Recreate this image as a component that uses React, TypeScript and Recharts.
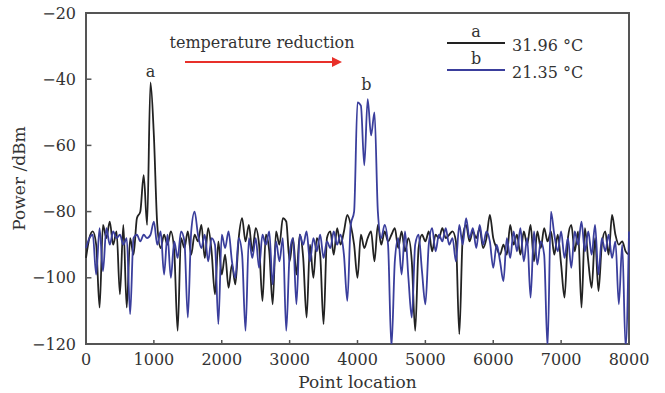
import React from "react";
import {
  LineChart,
  Line,
  XAxis,
  YAxis,
  ReferenceArea,
  ReferenceLine,
  ReferenceDot,
  Customized,
} from "recharts";

const STEP = 50;

const seriesA: number[] = [
  -94, -88, -86, -90, -109, -84, -88, -83, -90, -86,
  -105, -84, -109, -88, -93, -82, -80, -69, -84, -41,
  -57, -84, -91, -87, -90, -86, -92, -116, -88, -91,
  -86, -93, -87, -89, -84, -94, -85, -92, -105, -89,
  -99, -93, -103, -96, -102, -88, -82, -89, -84, -92,
  -85, -90, -107, -87, -92, -108, -86, -90, -82, -83,
  -95, -88, -99, -87, -94, -112, -90, -100, -88, -93,
  -114, -88, -86, -93, -85, -90, -86, -81, -84, -90,
  -100, -87, -91, -88, -86, -95, -84, -90, -86, -89,
  -87, -85, -91, -86, -92, -88, -95, -116, -91, -87,
  -89, -86, -92, -87, -88, -85, -88, -87, -86, -89,
  -117, -88, -84, -89, -86, -88, -85, -91, -88, -81,
  -88, -91, -93, -90, -93, -84, -90, -87, -93, -86,
  -90, -84, -95, -86, -91, -85, -89, -86, -93, -87,
  -96, -106, -88, -84, -92, -86, -109, -85, -95, -103,
  -88, -104, -90, -86, -93, -81, -87, -90, -89, -92,
  -93,
];

const seriesB: number[] = [
  -91, -88, -87, -99, -85, -98, -85, -90, -86, -88,
  -87, -90, -88, -111, -88, -87, -89, -87, -88, -87,
  -83, -90, -86, -99, -87, -100, -89, -94, -86, -89,
  -112, -86, -80, -87, -91, -87, -95, -88, -90, -114,
  -87, -91, -86, -95, -100, -88, -93, -116, -88, -94,
  -88, -97, -87, -90, -86, -102, -89, -95, -88, -116,
  -93, -88, -108, -87, -90, -86, -95, -88, -92, -87,
  -94, -89, -91, -86, -90, -87, -93, -107, -84, -80,
  -47, -48, -66, -46, -57, -50, -80, -88, -84, -90,
  -121, -95, -88, -99, -86, -100, -112, -90, -87, -98,
  -108, -90, -85, -92, -87, -89, -85, -90, -88, -95,
  -84, -90, -82, -88, -85, -91, -84, -90, -86, -89,
  -97, -90, -95, -101, -88, -94, -86, -92, -85, -95,
  -88, -106, -86, -96, -89, -93, -121, -80, -87, -92,
  -86, -94, -88, -97, -86, -90, -83, -92, -86, -93,
  -84, -99, -88, -92, -87, -94, -89, -108, -90, -121,
  -86,
];

const xTicks = [0, 1000, 2000, 3000, 4000, 5000, 6000, 7000, 8000];
const yTicks = [-120, -100, -80, -60, -40, -20];

const legendItems = [
  { key: "a", name: "31.96 °C", color: "#222222" },
  { key: "b", name: "21.35 °C", color: "#3a3e9c" },
];

const data = seriesA.map((v, i) => ({ x: i * STEP, a: v, b: seriesB[i] }));

const FONT = "DejaVu Serif";
const TXT = "#333333";
const AXIS = "#555555";

const fmt = (v: number) => String(v).replace("-", "\u2212");

const Annotation = () => (
  <g>
    <defs>
      <marker id="arrowhead" markerWidth="10" markerHeight="10" refX="8" refY="5" orient="auto" markerUnits="userSpaceOnUse">
        <path d="M0,0 L10,5 L0,10 z" fill="#e8302a" />
      </marker>
    </defs>
    <text x={262} y={48} textAnchor="middle" fontFamily={FONT} fontSize={16} fill={TXT}>
      temperature reduction
    </text>
    <line x1={185} y1={62} x2={340} y2={62} stroke="#e8302a" strokeWidth={2} markerEnd="url(#arrowhead)" />
    {legendItems.map((it, i) => (
      <g key={it.key}>
        <line x1={447} x2={505} y1={43 + i * 27} y2={43 + i * 27} stroke={it.color} strokeWidth={2} />
        <text x={476} y={37 + i * 27} textAnchor="middle" fontFamily={FONT} fontSize={16} fill={TXT}>
          {it.key}
        </text>
        <text x={512} y={51 + i * 27} fontFamily={FONT} fontSize={16} fill={TXT}>
          {it.name}
        </text>
      </g>
    ))}
  </g>
);

export default function App() {
  return (
    <div style={{ position: "absolute", left: 0, top: 0, width: 665, height: 393, background: "#fff" }}>
      <LineChart
        width={665}
        height={393}
        data={data}
        margin={{ top: 13, right: 36, bottom: 19, left: 0 }}
      >
        <XAxis
          dataKey="x"
          type="number"
          domain={[0, 8000]}
          ticks={xTicks}
          tickLine={false}
          axisLine={false}
          tick={{ fontFamily: FONT, fontSize: 16, fill: TXT }}
          tickMargin={4}
          height={30}
          label={{ value: "Point location", position: "insideBottom", offset: -14, fontFamily: FONT, fontSize: 17, fill: TXT }}
        />
        <YAxis
          type="number"
          domain={[-120, -20]}
          ticks={yTicks}
          tickFormatter={fmt}
          tickLine={false}
          axisLine={false}
          width={86}
          tick={{ fontFamily: FONT, fontSize: 16, fill: TXT }}
          tickMargin={4}
          label={{ value: "Power /dBm", angle: -90, position: "insideLeft", offset: 19, fontFamily: FONT, fontSize: 17, fill: TXT, style: { textAnchor: "middle" } }}
          allowDataOverflow
        />
        {xTicks.map((t) => (
          <ReferenceLine key={"xt" + t} segment={[{ x: t, y: -120 }, { x: t, y: -118.8 }]} stroke={AXIS} strokeWidth={1.5} />
        ))}
        {yTicks.map((t) => (
          <ReferenceLine key={"yt" + t} segment={[{ x: 0, y: t }, { x: 80, y: t }]} stroke={AXIS} strokeWidth={1.5} />
        ))}
        <Line type="monotone" dataKey="a" stroke="#222222" strokeWidth={1.8} dot={false} isAnimationActive={false} />
        <Line type="monotone" dataKey="b" stroke="#3a3e9c" strokeWidth={1.8} dot={false} isAnimationActive={false} />
        <ReferenceArea x1={0} x2={8000} y1={-120} y2={-20} stroke={AXIS} strokeWidth={2} fill="none" fillOpacity={0} ifOverflow="visible" />
        <ReferenceDot x={950} y={-41} r={0} stroke="none" label={{ value: "a", position: "top", offset: 6, fontFamily: FONT, fontSize: 16, fill: TXT }} />
        <ReferenceDot x={4130} y={-45} r={0} stroke="none" label={{ value: "b", position: "top", offset: 6, fontFamily: FONT, fontSize: 16, fill: TXT }} />
        <Customized component={Annotation} />
      </LineChart>
    </div>
  );
}
